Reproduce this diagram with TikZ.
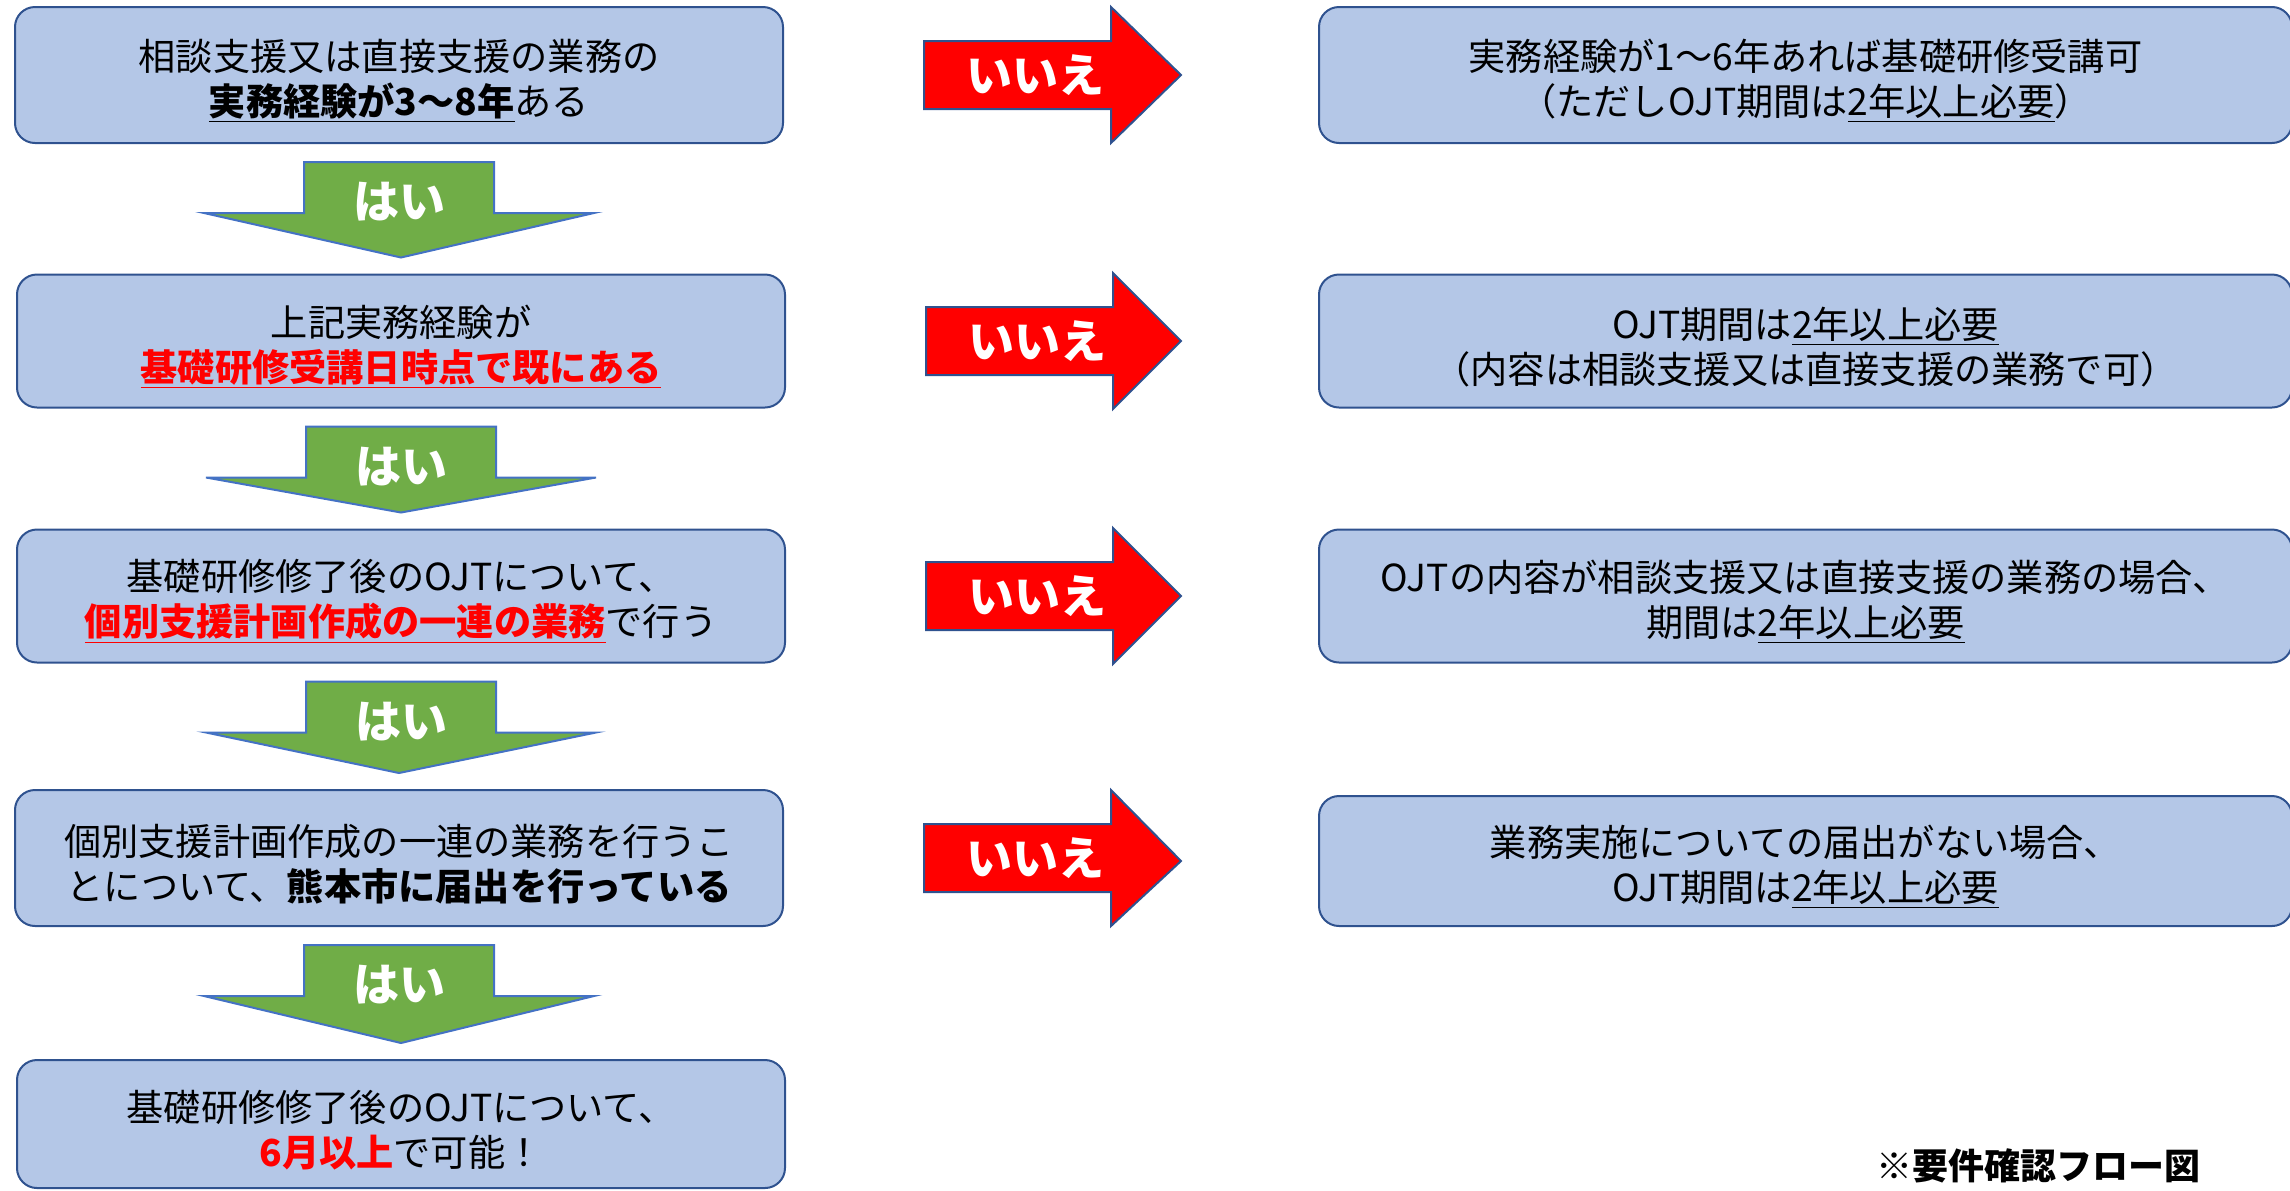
\documentclass[tikz,border=0pt]{standalone}
\usepackage{fontspec}
\setmainfont{Noto Sans CJK JP}
\usetikzlibrary{calc}

\definecolor{boxfill}{HTML}{B4C7E7}
\definecolor{boxline}{HTML}{2F528F}
\definecolor{yesfill}{HTML}{70AD47}
\definecolor{yesline}{HTML}{4472C4}

% extra room above the first line, pushes the two lines a little down
\newcommand{\lift}{\rule{0pt}{21.5pt}}

\tikzstyle{every node}=[align=center, inner sep=0pt, font={\fontsize{18.6}{22.5}\selectfont}]
\tikzstyle{question}=[draw=boxline, fill=boxfill, line width=1pt, rounded corners=10pt, minimum width=384pt]
\tikzstyle{answer}=[question, minimum width=486.5pt]
\tikzstyle{yes}=[draw=yesline, fill=yesfill, line width=1pt]
\tikzstyle{no}=[draw=boxline, fill=red, line width=1pt]
\tikzstyle{arrowtext}=[text=white, font={\fontsize{23}{23}\selectfont\bfseries}]

\begin{document}
\begin{tikzpicture}[x=0.5pt, y=-0.5pt]
    \clip (0,0) rectangle (2290,1190);

    % left column: the questions
    \node [question, minimum height=68pt] (q1) at (399,75)
        {\lift 相談支援又は直接支援の業務の\\\underline{\textbf{実務経験が3～8年}}ある};
    \node [question, minimum height=66.5pt] (q2) at (401,341)
        {\lift 上記実務経験が\\\textcolor{red}{\underline{\textbf{基礎研修受講日時点で既にある}}}};
    \node [question, minimum height=66.5pt] (q3) at (401,596)
        {\lift 基礎研修修了後のOJTについて、\\\textcolor{red}{\underline{\textbf{個別支援計画作成の一連の業務}}}で行う};
    \node [question, minimum height=68pt] (q4) at (399,858)
        {\lift 個別支援計画作成の一連の業務を行うこ\\とについて、\textbf{熊本市に届出を行っている}};
    \node [question, minimum height=64pt] (q5) at (401,1124)
        {\lift 基礎研修修了後のOJTについて、\\\textcolor{red}{\textbf{6月以上}}で可能！};

    % right column: the answers
    \node [answer, minimum height=68pt] (n1) at (1805.5,75)
        {\lift 実務経験が1～6年あれば基礎研修受講可\\（ただしOJT期間は\underline{2年以上必要}）};
    \node [answer, minimum height=66.5pt] (n2) at (1805.5,341)
        {\lift OJT期間は\underline{2年以上必要}\\（内容は相談支援又は直接支援の業務で可）};
    \node [answer, minimum height=66.5pt] (n3) at (1805.5,596)
        {\lift OJTの内容が相談支援又は直接支援の業務の場合、\\期間は\underline{2年以上必要}};
    \node [answer, minimum height=65pt] (n4) at (1805.5,861)
        {\lift 業務実施についての届出がない場合、\\OJT期間は\underline{2年以上必要}};

    % yes arrows
    \foreach \a/\b in {q1/q2,q2/q3,q3/q4,q4/q5} {
        \path ($(\a.south)+(0,18)$) coordinate (t\a);
        \draw [yes] (t\a) ++(-95,0) -- ++(190,0) -- ++(0,51) -- ++(100,0)
            -- ($(\b.north)+(0,-16)$) -- ($(t\a)+(-195,51)$) -- ++(100,0) -- cycle;
        \node [arrowtext] (yes\a) at ($(t\a)+(0,40)$) {はい};
    }

    % no arrows
    \foreach \a/\b in {q1/n1,q2/n2,q3/n3,q4/n4} {
        \path ($(\a.east)+(140,0)$) coordinate (s\a);
        \draw [no] (s\a) ++(0,-34) -- ++(187,0) -- ++(0,-34)
            -- ($(\b.west)+(-137,0)$) -- ($(s\a)+(187,68)$) -- ++(0,-34) -- ++(-187,0) -- cycle;
        \node [arrowtext] (no\a) at ($(s\a)+(111,0)$) {いいえ};
    }

    \node [font={\fontsize{18}{18}\selectfont\bfseries}] (title) at (2038,1166) {※要件確認フロー図};
\end{tikzpicture}
\end{document}
